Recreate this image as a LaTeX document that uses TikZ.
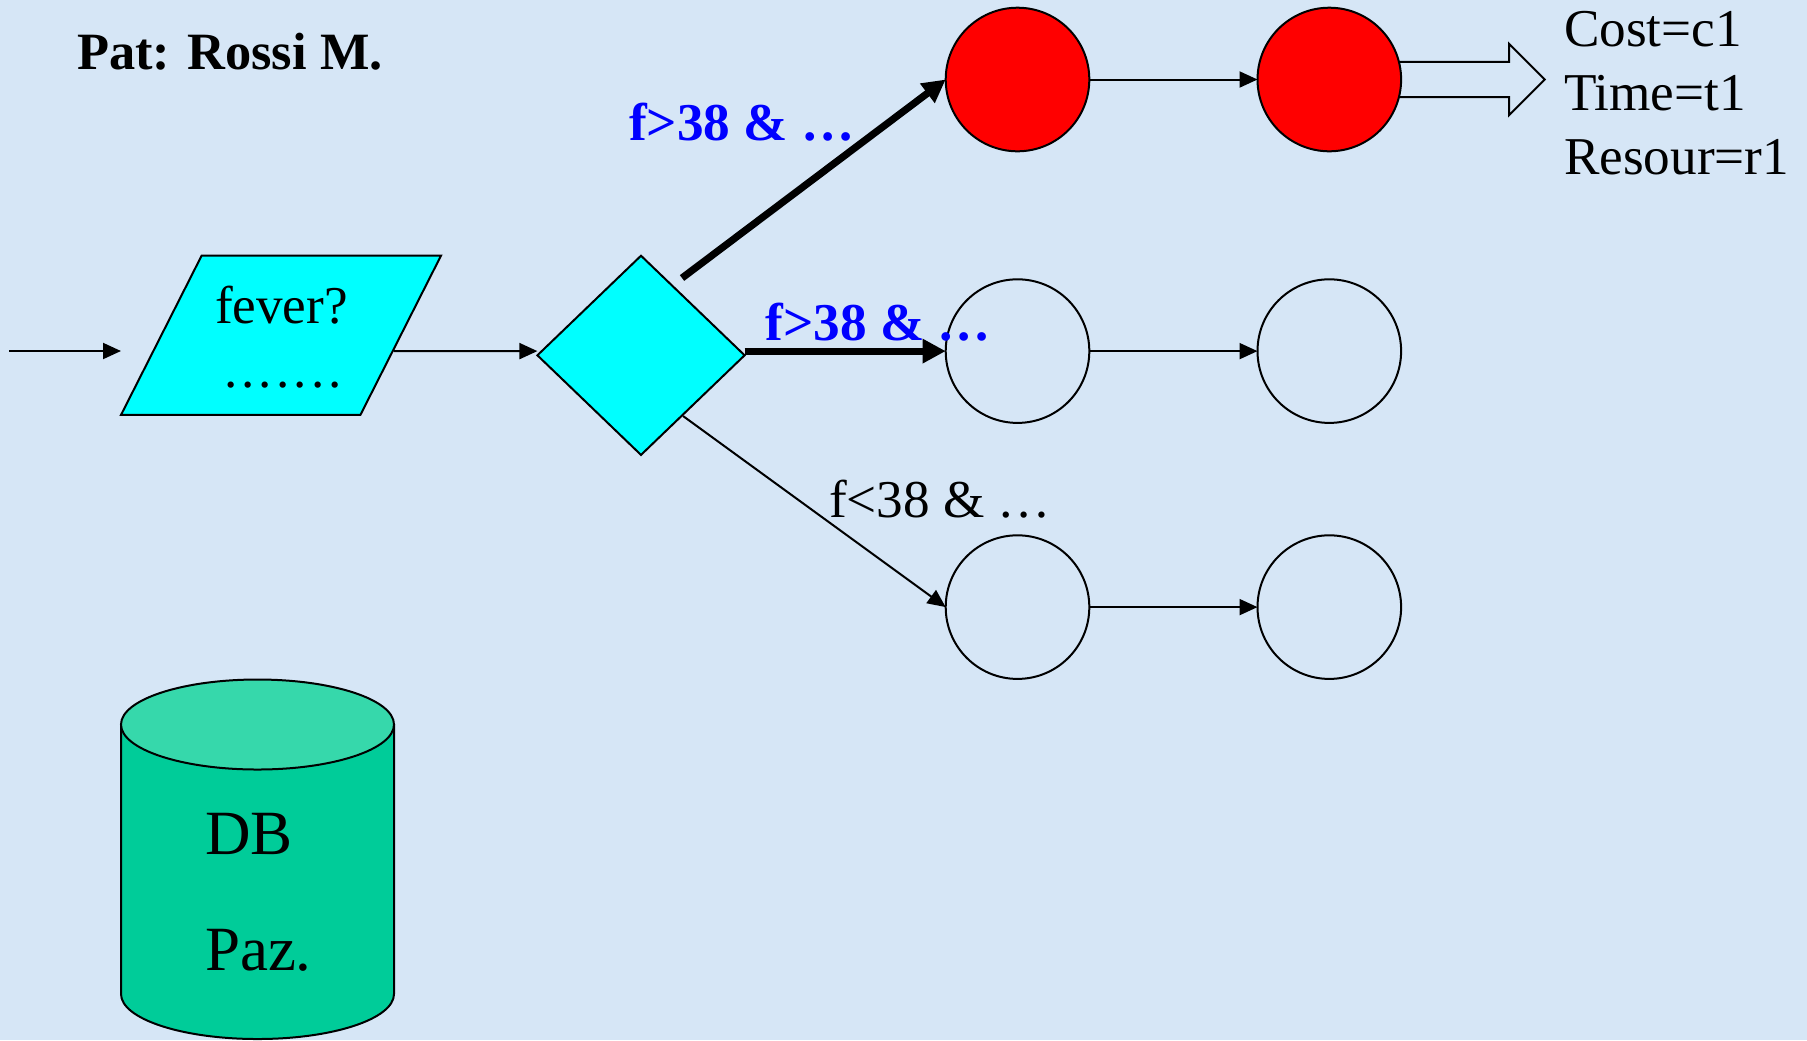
\documentclass[tikz,border=0pt]{standalone}
\usepackage{fontspec}
\setmainfont{Liberation Serif}
\usepackage{xcolor}
\usetikzlibrary{positioning,arrows.meta,shapes.geometric,shapes.arrows}
\definecolor{bgblue}{HTML}{D6E6F6}
\definecolor{boxcyan}{HTML}{00FFFF}
\definecolor{dbbody}{HTML}{00CC99}
\definecolor{dbtop}{HTML}{36D8AB}

\begin{document}
\begin{tikzpicture}[x=0.5pt,y=-0.5pt,
                every node/.style={outer sep=0pt},
                outline/.style={draw=black,line width=1pt},
                roundnode/.style={outline,circle,inner sep=0pt,minimum size=71.8pt},
                hitnode/.style={roundnode,fill=red},
                thinarrow/.style={line width=1pt,-{Triangle[length=9pt,width=8pt]}},
                thickarrow/.style={line width=3.6pt,-{Triangle[length=11.5pt,width=11.5pt]}},
                label/.style={anchor=base west,inner sep=0pt,font=\fontsize{26.6}{31}\selectfont},
                blue label/.style={label,text=blue,font=\fontsize{26.6}{31}\selectfont\bfseries}
                ]
                \useasboundingbox (0,0) rectangle (1807,1040);
                \fill[bgblue] (0,0) rectangle (1807,1040);

                % top row, with the block arrow running under the second circle
                \node [hitnode] (c11) at (1017.5,79.5) {};
                \node [outline,single arrow,single arrow head extend=9.1pt,inner ysep=8.3pt,
                       inner xsep=0pt,minimum height=78pt] (result) at (1458,79.5) {};
                \node [hitnode,right=84.1pt of c11] (c12) {};
                % other rows
                \node [roundnode,below=64pt of c11] (c21) {};
                \node [roundnode,right=84.1pt of c21] (c22) {};
                \node [roundnode,below=56.2pt of c21] (c31) {};
                \node [roundnode,right=84.1pt of c31] (c32) {};

                \node [outline,fill=boxcyan,trapezium,trapezium left angle=63.1,trapezium right angle=116.9,
                       trapezium stretches,inner sep=1pt,minimum width=160pt,minimum height=79.6pt] (test) at (281,335.3) {};
                \node [outline,fill=boxcyan,diamond,inner sep=0pt,minimum width=103.6pt,minimum height=99.6pt] (choice) at (641,355.3) {};

                \coordinate (start) at (9,351);
                \coordinate (testin) at (121,351);
                \coordinate (testout) at (394,351);
                \coordinate (upper) at (682,278);
                \coordinate (lower) at (683,416);

                \draw [thinarrow] (start) -- (testin);
                \draw [thinarrow] (testout) -- (choice.west |- c21);
                \draw [thickarrow] (upper) -- (c11.west);
                \draw [thickarrow] (choice.east |- c21) -- (c21.west);
                \draw [thinarrow] (lower) -- (c31.west);
                \draw [thinarrow] (c11) -- (c12);
                \draw [thinarrow] (c21) -- (c22);
                \draw [thinarrow] (c31) -- (c32);

                % the db cylinder
                \filldraw [outline,fill=dbbody] (121,725) -- (121,994) arc[x radius=136.5,y radius=45,start angle=180,end angle=0] -- (394,725) -- cycle;
                \filldraw [outline,fill=dbtop] (257.5,724.5) ellipse[x radius=136.5,y radius=45];

                \node [label,font=\fontsize{26.2}{31}\selectfont\bfseries] (patient) at (77,69) {Pat: Rossi M.};
                \node [label] (fever) at (215,323) {fever?};
                \node [label] (dots) at (224,387) {\addfontfeature{LetterSpace=7.8}.......};
                \node [blue label] (cond1) at (629,140) {f>38 \& …};
                \node [blue label] (cond2) at (765.5,340) {f>38 \& …};
                \node [label] (cond3) at (829,517) {f<38 \& …};
                \node [label] (cost) at (1564,46.7) {Cost=c1};
                \node [label] (time) at (1564,110.5) {Time=t1};
                \node [label] (resour) at (1564,174) {Resour=r1};
                \node [label,font=\fontsize{31.5}{36}\selectfont] (db) at (205,854) {DB};
                \node [label,font=\fontsize{31.5}{36}\selectfont] (paz) at (205,970) {Paz.};
\end{tikzpicture}
\end{document}
